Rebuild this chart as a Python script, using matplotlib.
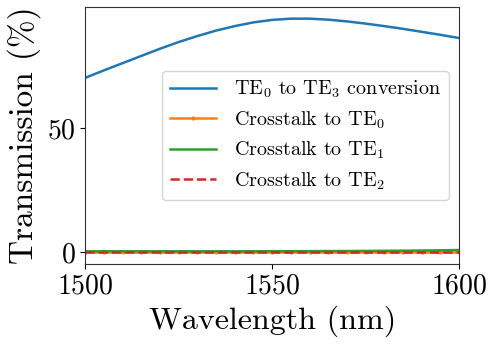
import matplotlib
matplotlib.use("Agg")
import matplotlib.pyplot as plt

plt.rcParams["font.family"] = "serif"
plt.rcParams["font.serif"] = ["cmr10"]
plt.rcParams["mathtext.fontset"] = "cm"
plt.rcParams["axes.formatter.use_mathtext"] = True

wavelength = [1500, 1505, 1510, 1515, 1520, 1525, 1530, 1535, 1540, 1545, 1550,
              1555, 1560, 1565, 1570, 1575, 1580, 1585, 1590, 1595, 1600]
te3_conv = [70.2, 73.2, 76.1, 79.0, 81.9, 84.6, 87.0, 89.2, 91.0, 92.5, 93.5,
            94.0, 94.0, 93.6, 92.9, 92.0, 91.0, 89.9, 88.7, 87.5, 86.2]
xt_te0 = [0.1, 0.1, 0.1, 0.1, 0.1, 0.1, 0.1, 0.1, 0.1, 0.1, 0.1,
          0.1, 0.1, 0.1, 0.1, 0.1, 0.1, 0.1, 0.1, 0.1, 0.1]
xt_te1 = [0.45, 0.45, 0.45, 0.45, 0.45, 0.45, 0.45, 0.45, 0.45, 0.45, 0.5,
          0.5, 0.5, 0.55, 0.55, 0.6, 0.65, 0.7, 0.75, 0.85, 0.95]
xt_te2 = [0.3, 0.3, 0.3, 0.3, 0.3, 0.3, 0.3, 0.3, 0.3, 0.3, 0.3,
          0.3, 0.3, 0.3, 0.3, 0.3, 0.3, 0.3, 0.3, 0.3, 0.3]

fig = plt.figure(figsize=(4.98, 3.49), dpi=100)
ax = fig.add_axes([0.171, 0.244, 0.751, 0.736])

ax.plot(wavelength, te3_conv, color="#1f77b4", lw=1.8, label=r"TE$_0$ to TE$_3$ conversion")
ax.plot(wavelength, xt_te0, color="#ff7f0e", lw=1.8, marker=".", markersize=4,
        label=r"Crosstalk to TE$_0$")
ax.plot(wavelength, xt_te1, color="#2ca02c", lw=1.8, label=r"Crosstalk to TE$_1$")
ax.plot(wavelength, xt_te2, color="#d62728", lw=1.8, ls="--", label=r"Crosstalk to TE$_2$")

ax.set_xlim(1500, 1600)
ax.set_xticks([1500, 1550, 1600])
ax.set_yticks([0, 50])
ax.tick_params(labelsize=20)
ax.set_xlabel("Wavelength (nm)", fontsize=23)
ax.set_ylabel("Transmission (%)", fontsize=24)
for s in ax.spines.values():
    s.set_color("#333333")

ax.legend(loc="center right", fontsize=14.5, labelspacing=0.45, handlelength=2.3,
          handletextpad=0.9)

fig.savefig("out.png", dpi=100)
